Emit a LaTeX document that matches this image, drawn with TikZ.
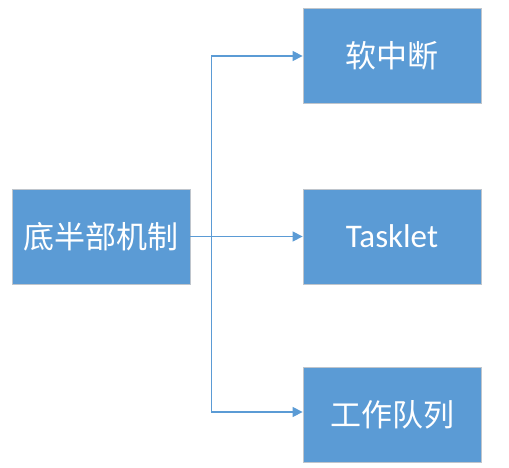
\documentclass[tikz,border=0pt]{standalone}
\usepackage{fontspec}
\newfontfamily\cjk{Noto Sans CJK SC}
\newfontfamily\lat{Carlito}
\usetikzlibrary{arrows.meta}
\definecolor{boxblue}{HTML}{5B9BD5}
\definecolor{boxedge}{HTML}{BFC5CC}
\begin{document}
\begin{tikzpicture}[x=1pt,y=-1pt,
  blk/.style={draw=boxedge,line width=0.8pt,fill=boxblue,minimum width=178pt,minimum height=95pt,inner sep=0pt,text=white,font=\cjk\fontsize{31}{33}\selectfont},
  conn/.style={draw=boxblue,line width=1.3pt,-{Triangle[length=10pt,width=10pt]}}]
\useasboundingbox (0,0) rectangle (509,468);
\node[blk] (L) at (101,236.5) {底半部机制};
\node[blk] (T) at (392,56) {软中断};
\node[blk,font=\lat\fontsize{33}{35}\selectfont] (M) at (392,236.5) {Tasklet};
\node[blk] (B) at (392,414.5) {工作队列};
\draw[conn] (L.east) -- (M.west);
\draw[conn] (L.east) -- ++(21,0) |- (T.west);
\draw[conn] (L.east) -- ++(21,0) |- ([yshift=2.5pt]B.west);
\end{tikzpicture}
\end{document}
